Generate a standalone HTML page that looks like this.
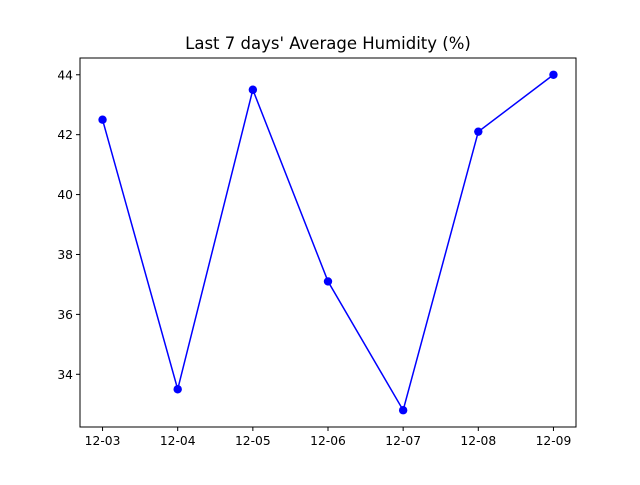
<!DOCTYPE html>
<html><head><meta charset="utf-8"><style>
body{margin:0;background:#fff}
svg text{font-family:"DejaVu Sans","Liberation Sans",sans-serif;fill:#000}
</style></head><body>
<svg id="chart" width="640" height="480" xmlns="http://www.w3.org/2000/svg">
<rect width="640" height="480" fill="#fff"/>
<text x="328" y="49" font-size="16.5" text-anchor="middle">Last 7 days' Average Humidity (%)</text>
<g id="axes"></g>
<rect x="80" y="58" width="496" height="369" fill="none" stroke="#000" stroke-width="1"/>
</svg>
<script>
const categories=["12-03","12-04","12-05","12-06","12-07","12-08","12-09"];
const humidity=[42.5,33.5,43.5,37.1,32.8,42.1,44.0];
const yTicks=[34,36,38,40,42,44];
const L=80,R=576,T=58,B=427;
const dmin=Math.min(...humidity),dmax=Math.max(...humidity),pad=(dmax-dmin)*0.05;
const y0=dmin-pad,y1=dmax+pad;
const xs=i=>{const n=categories.length-1,p=n*0.05;return L+(i+p)/(n+2*p)*(R-L);};
const ys=v=>B-(v-y0)/(y1-y0)*(B-T);
const g=document.getElementById('axes');
const NS="http://www.w3.org/2000/svg";
function mk(t,a){const e=document.createElementNS(NS,t);for(const k in a)e.setAttribute(k,a[k]);g.appendChild(e);return e;}
categories.forEach((c,i)=>{const x=xs(i);
const t=mk('line',{x1:x,x2:x,y1:B,y2:B+4,stroke:'#000'});


const l=mk('text',{x:x,y:B+18,'font-size':12.3,'text-anchor':'middle'});l.textContent=c;


});
yTicks.forEach(v=>{const y=ys(v);
const t=mk('line',{x1:L-4,x2:L,y1:y,y2:y,stroke:'#000'});


const l=mk('text',{x:L-7,y:y+4.5,'font-size':12.3,'text-anchor':'end'});l.textContent=v;


});
const pl=mk('polyline',{points:humidity.map((v,i)=>xs(i)+','+ys(v)).join(' '),fill:'none',stroke:'#0000ff','stroke-width':1.5});


humidity.forEach((v,i)=>{const c=mk('circle',{cx:xs(i),cy:ys(v),r:4.2,fill:'#0000ff'});


});
</script>
</body></html>
